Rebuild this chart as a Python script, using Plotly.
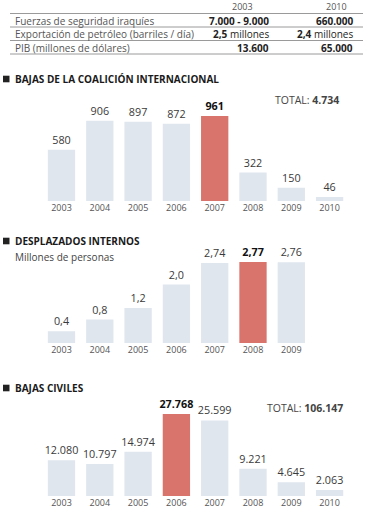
import plotly.graph_objects as go

W, H = 369, 512

# ---------------- data ----------------
table_header = ["2003", "2010"]
table_rows = ["Fuerzas de seguridad iraquíes",
              "Exportación de petróleo (barriles / día)",
              "PIB (millones de dólares)"]
table_2003 = ["<b>7.000 - 9.000</b>", "<b>2,5</b> millones", "<b>13.600</b>"]
table_2010 = ["<b>660.000</b>", "<b>2,4</b> millones", "<b>65.000</b>"]

coal_years = ["2003", "2004", "2005", "2006", "2007", "2008", "2009", "2010"]
coal_values = [580, 906, 897, 872, 961, 322, 150, 46]
coal_total = "4.734"
coal_highlight = "2007"

desp_years = ["2003", "2004", "2005", "2006", "2007", "2008", "2009"]
desp_values = [0.4, 0.8, 1.2, 2.0, 2.74, 2.77, 2.76]
desp_labels = ["0,4", "0,8", "1,2", "2,0", "2,74", "2,77", "2,76"]
desp_highlight = "2008"

civ_years = ["2003", "2004", "2005", "2006", "2007", "2008", "2009", "2010"]
civ_values = [12080, 10797, 14974, 27768, 25599, 9221, 4645, 2063]
civ_total = "106.147"
civ_highlight = "2006"

titles = ["BAJAS DE LA COALICIÓN INTERNACIONAL", "DESPLAZADOS INTERNOS", "BAJAS CIVILES"]
subtitle2 = "Millones de personas"

# ---------------- style ----------------
FONT = "Open Sans"
LIGHT = "#dfe6ee"
RED = "#d8746b"
TXT = "#3a3a3a"
GREY = "#555555"


def px_x(x):
    return x / W


def px_y(y):
    return 1 - y / H


def fmt_int(v):
    return f"{v:,}".replace(",", ".")


def bar_trace(years, values, labels, highlight, xa, ya):
    colors = [RED if y == highlight else LIGHT for y in years]
    text = [f"<b>{l}</b>" if y == highlight else l for y, l in zip(years, labels)]
    tcol = ["#111111" if y == highlight else TXT for y in years]
    return go.Bar(x=years, y=values, text=text, textposition="outside",
                  textfont=dict(family=FONT, size=10.8, color=tcol),
                  marker=dict(color=colors, line=dict(width=0)),
                  cliponaxis=False, constraintext="none",
                  xaxis=xa, yaxis=ya, hoverinfo="skip", showlegend=False)


fig = go.Figure()
fig.add_trace(bar_trace(coal_years, coal_values, [fmt_int(v) for v in coal_values],
                        coal_highlight, "x", "y"))
fig.add_trace(bar_trace(desp_years, desp_values, desp_labels, desp_highlight, "x2", "y2"))
fig.add_trace(bar_trace(civ_years, civ_values, [fmt_int(v) for v in civ_values],
                        civ_highlight, "x3", "y3"))

slot = 38.3
left = 61.5 - slot / 2


def xaxis(n, anchor):
    return dict(type="category", domain=[px_x(left), px_x(left + n * slot)],
                anchor=anchor, showgrid=False, showline=False, zeroline=False,
                ticks="", tickfont=dict(family=FONT, size=9, color=GREY),
                fixedrange=True)


def yaxis(bottom, top, vmax, anchor):
    return dict(domain=[px_y(bottom), px_y(top)], range=[0, vmax], anchor=anchor,
                showgrid=False, showline=False, zeroline=False, showticklabels=False,
                ticks="", fixedrange=True)


fig.update_layout(
    width=W, height=H, margin=dict(l=0, r=0, t=0, b=0),
    paper_bgcolor="white", plot_bgcolor="white",
    bargap=11 / 38.3,
    font=dict(family=FONT, color=TXT),
    xaxis=xaxis(len(coal_years), "y"),
    yaxis=yaxis(201, 116, max(coal_values), "x"),
    xaxis2=xaxis(len(desp_years), "y2"),
    yaxis2=yaxis(343, 262, max(desp_values), "x2"),
    xaxis3=xaxis(len(civ_years), "y3"),
    yaxis3=yaxis(496, 414, max(civ_values), "x3"),
)

ann = []
shapes = []

# table
ann.append(dict(x=px_x(242), y=px_y(6.5), text=table_header[0], xanchor="center", yanchor="middle",
                font=dict(family=FONT, size=9, color=GREY)))
ann.append(dict(x=px_x(336), y=px_y(6.5), text=table_header[1], xanchor="center", yanchor="middle",
                font=dict(family=FONT, size=9, color=GREY)))
line_y = [13.5, 27, 40.5, 54]
for ly in line_y:
    shapes.append(dict(type="line", xref="paper", yref="paper", x0=px_x(10), x1=px_x(363),
                       y0=px_y(ly), y1=px_y(ly), line=dict(color="#9a9a9a", width=1)))
row_y = [20.5, 34, 47.5]
for i, (lab, a, b) in enumerate(zip(table_rows, table_2003, table_2010)):
    ann.append(dict(x=px_x(13), y=px_y(row_y[i]), text=lab, xanchor="left", yanchor="middle",
                    font=dict(family=FONT, size=10, color=GREY)))
    ann.append(dict(x=px_x(271), y=px_y(row_y[i]), text=a, xanchor="right", yanchor="middle",
                    font=dict(family=FONT, size=10, color="#222222")))
    ann.append(dict(x=px_x(355), y=px_y(row_y[i]), text=b, xanchor="right", yanchor="middle",
                    font=dict(family=FONT, size=10, color="#222222")))

# section titles
title_y = [79, 241, 388]
for t, ty in zip(titles, title_y):
    shapes.append(dict(type="rect", xref="paper", yref="paper", x0=px_x(3), x1=px_x(9.5),
                       y0=px_y(ty + 3.3), y1=px_y(ty - 3.3), fillcolor="#222222", line=dict(width=0)))
    ann.append(dict(x=px_x(13), y=px_y(ty), text=f"<b>{t}</b>", xanchor="left", yanchor="middle",
                    font=dict(family=FONT, size=10, color="#1a1a1a")))

ann.append(dict(x=px_x(13), y=px_y(257), text=subtitle2, xanchor="left", yanchor="middle",
                font=dict(family=FONT, size=10, color="#444444")))

ann.append(dict(x=px_x(341), y=px_y(100), text=f"TOTAL: <b>{coal_total}</b>", xanchor="right",
                yanchor="middle", font=dict(family=FONT, size=10.5, color="#444444")))
ann.append(dict(x=px_x(345), y=px_y(408), text=f"TOTAL: <b>{civ_total}</b>", xanchor="right",
                yanchor="middle", font=dict(family=FONT, size=10.5, color="#444444")))

for a in ann:
    a.update(xref="paper", yref="paper", showarrow=False)

fig.update_layout(annotations=ann, shapes=shapes)
fig.write_html("out.html", config={"displayModeBar": False, "staticPlot": True},
               post_script="document.body.style.margin='0';")
